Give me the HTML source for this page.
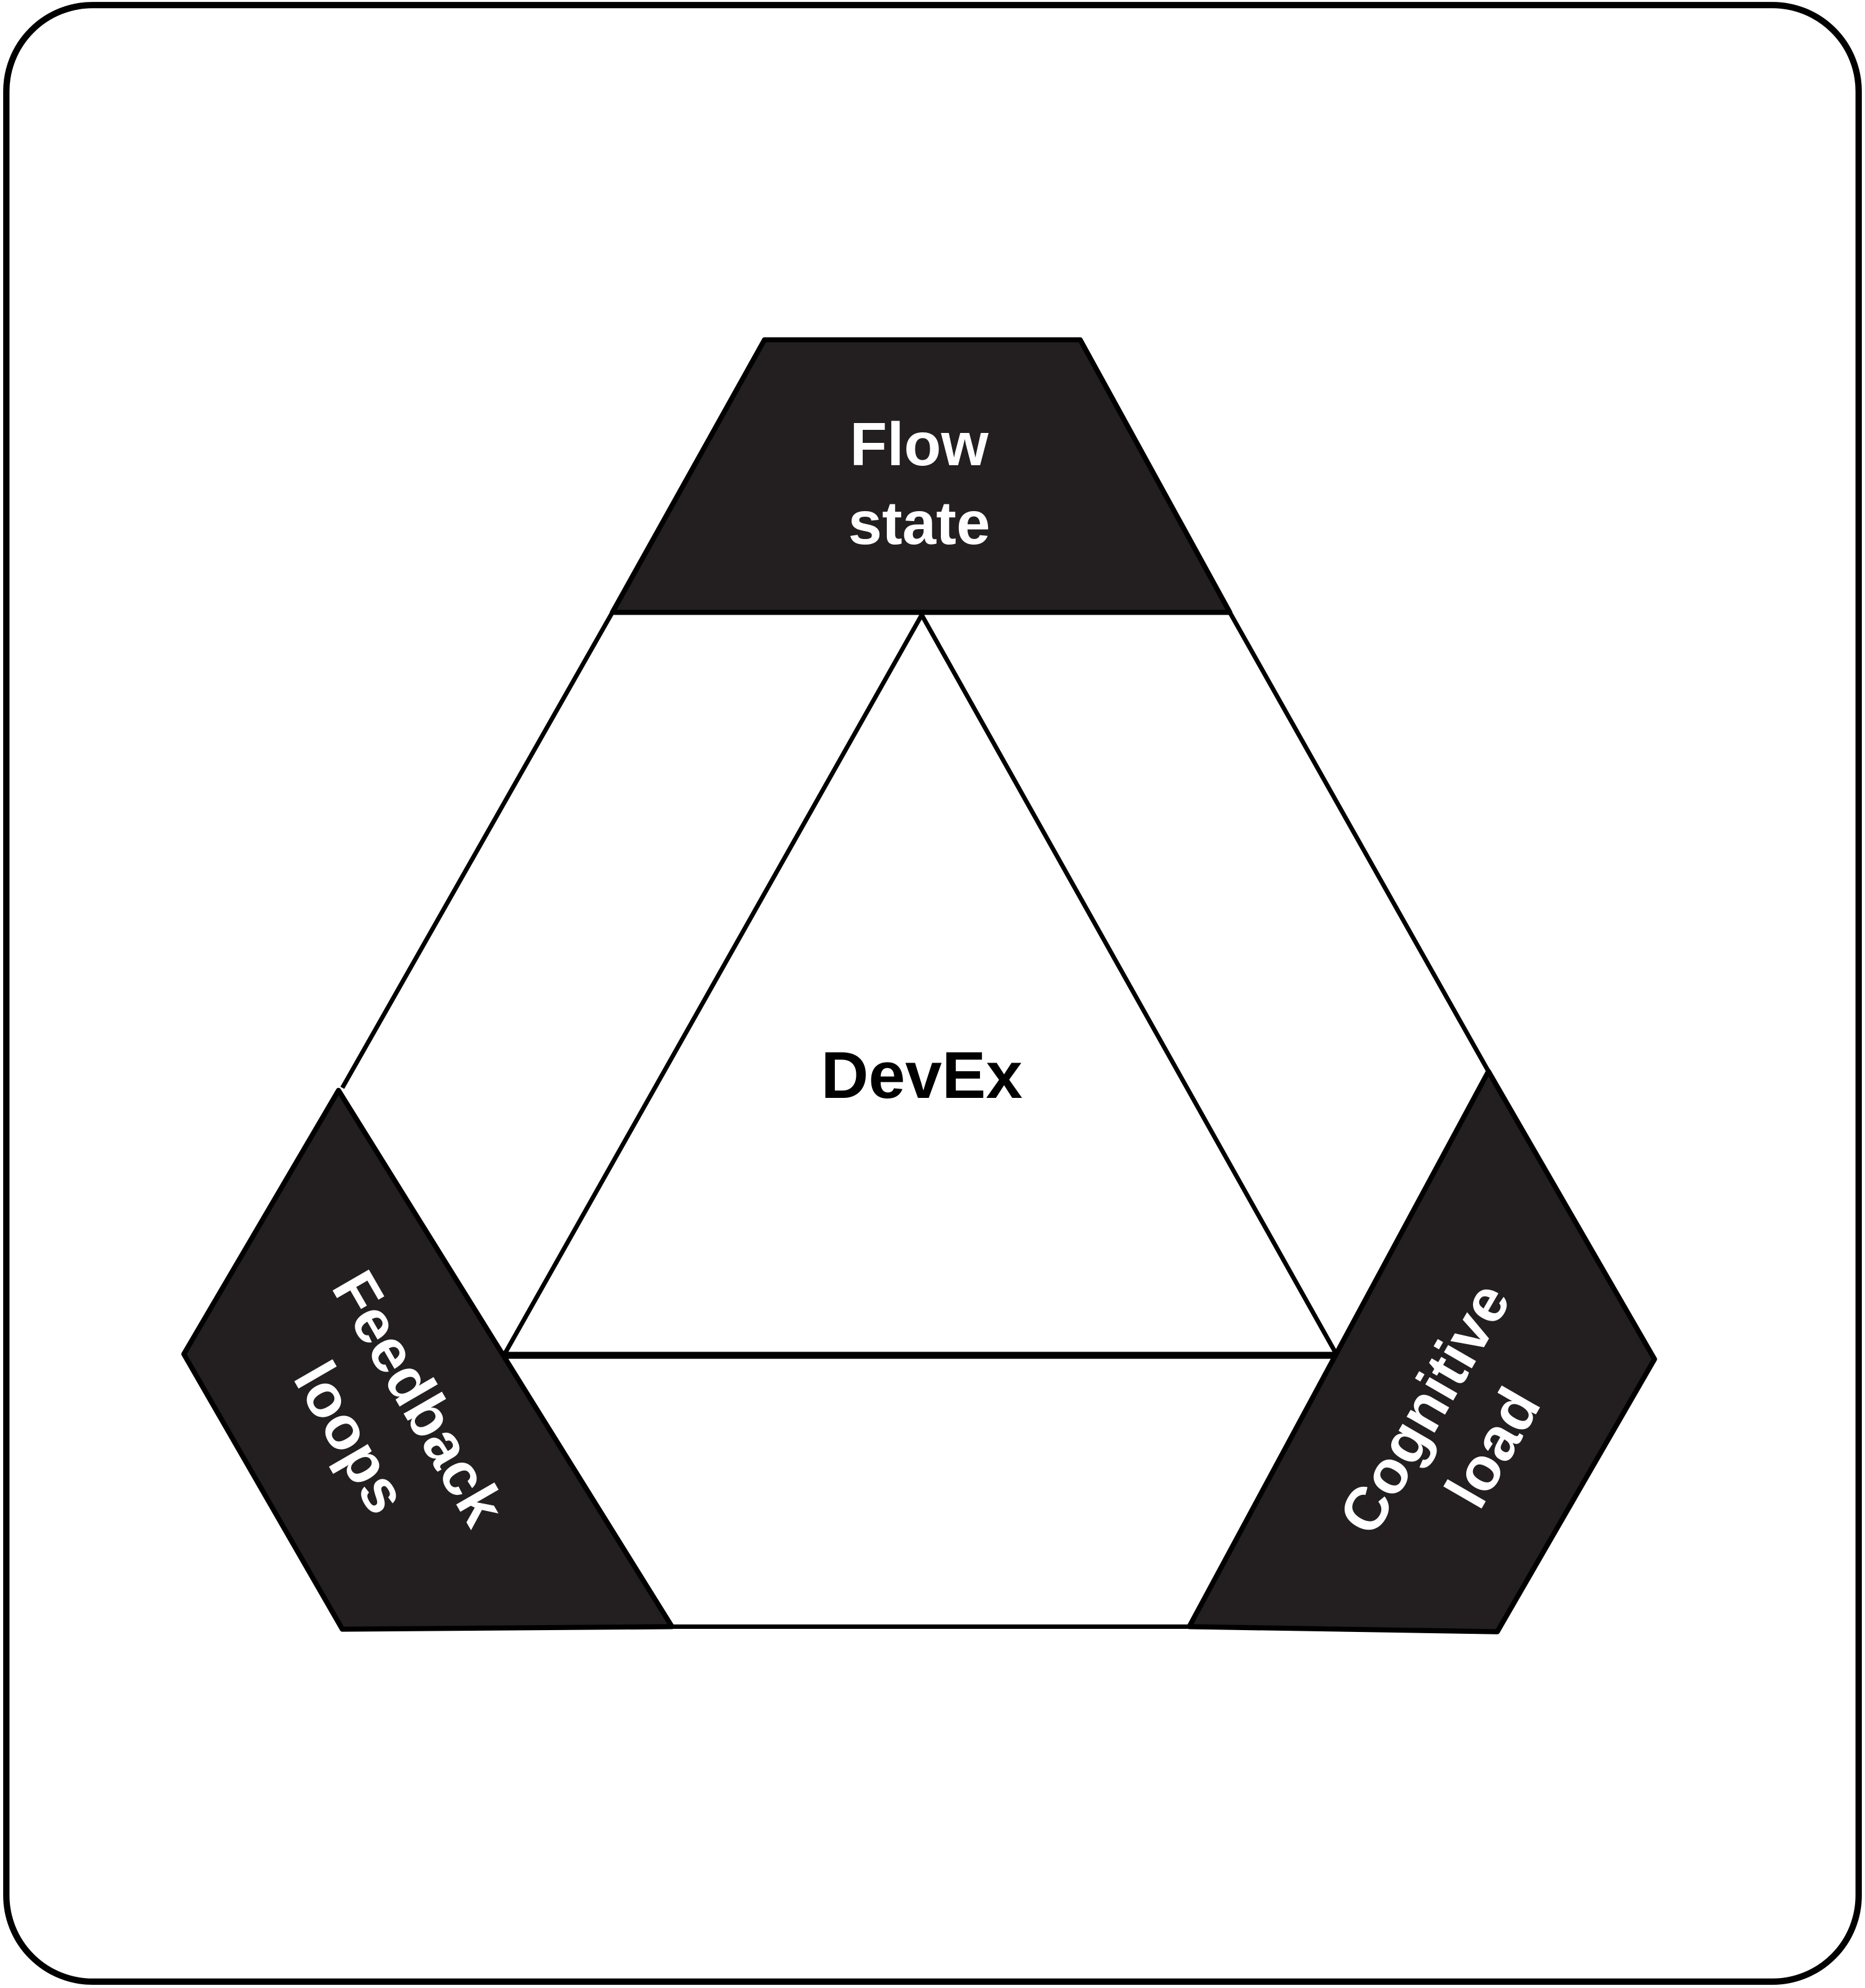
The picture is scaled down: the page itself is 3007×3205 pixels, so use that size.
<!DOCTYPE html>
<html><head><meta charset="utf-8"><style>
html,body{margin:0;padding:0;background:#fff;}
svg{display:block;}
text{font-family:"Liberation Sans",sans-serif;font-weight:bold;}
</style></head><body>
<svg width="3007" height="3205" viewBox="0 0 1471 1568" preserveAspectRatio="none" xmlns="http://www.w3.org/2000/svg">
<rect x="5" y="4" width="1461" height="1559" rx="68" ry="68" fill="#fff" stroke="#000" stroke-width="5"/>
<g stroke="#000" stroke-width="3.5" fill="none" stroke-linejoin="round">
<line x1="483" y1="483" x2="270" y2="858"/>
<line x1="970" y1="483" x2="1174" y2="845"/>
<line x1="530" y1="1283" x2="938" y2="1283"/>
<line x1="483" y1="483" x2="970" y2="483"/>
<polygon points="727,485 398,1068 1054,1068"/>
<line x1="400" y1="1070" x2="1052" y2="1070"/>
</g>
<g fill="#231f20" stroke="#000" stroke-width="4" stroke-linejoin="round">
<polygon points="603,268 852,268 970,483 483,483"/>
<polygon points="267,860 145,1068 270,1285 530,1283"/>
<polygon points="1174,845 1305,1072 1181,1287 938,1283"/>
</g>
<g fill="#fff" font-size="48" text-anchor="middle">
<text x="725" y="367">Flow</text>
<text x="725" y="429">state</text>
<g transform="translate(304,1118) rotate(60)">
<text x="0" y="-14">Feedback</text>
<text x="0" y="48">loops</text>
</g>
<g transform="translate(1150,1126) rotate(-60)">
<text x="0" y="-14">Cognitive</text>
<text x="0" y="48">load</text>
</g>
</g>
<text x="727" y="866" font-size="52" text-anchor="middle" fill="#000">DevEx</text>
</svg>
</body></html>
